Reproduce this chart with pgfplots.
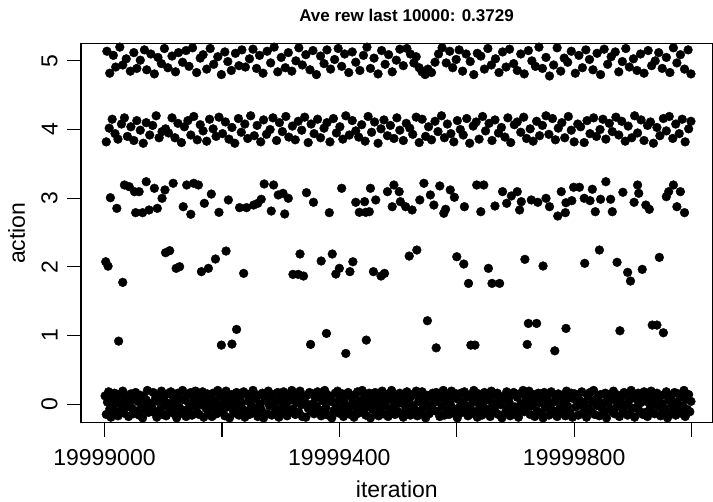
\documentclass[border=0pt]{standalone}
\usepackage{fontspec}
\setmainfont{Liberation Sans}
\usepackage{graphicx}
\usepackage{pgfplots}
\pgfplotsset{compat=1.18}
\begin{document}
\begin{tikzpicture}
\useasboundingbox (0,0) rectangle (713bp,502bp);
\begin{axis}[
  at={(81bp,79.3bp)}, anchor=south west,
  scale only axis, width=631.7bp, height=379bp,
  xmin=19998960, xmax=20000036, ymin=-0.27, ymax=5.25,
  axis line style={line width=1.2bp},
  xtick={19999000,19999200,19999400,19999600,19999800,20000000},
  xticklabels={19999000,,19999400,,19999800,},
  ytick={0,1,2,3,4,5},
  yticklabels={\rotatebox{90}{0},\rotatebox{90}{1},\rotatebox{90}{2},\rotatebox{90}{3},\rotatebox{90}{4},\rotatebox{90}{5}},
  tick align=outside, xtick pos=left, ytick pos=left,
  major tick length=14bp,
  every tick/.style={black, line width=1.2bp},
  tick label style={font=\fontsize{23bp}{24bp}\selectfont, inner sep=0pt},
  xticklabel style={anchor=base, yshift=-29.1bp},
  yticklabel style={anchor=east, xshift=-9.4bp},
  xlabel={iteration}, ylabel={action},
  every axis x label/.style={at={(axis description cs:0.5,0)}, anchor=base, yshift=-74.8bp, inner sep=0pt, font=\fontsize{23bp}{24bp}\selectfont},
  every axis y label/.style={at={(axis description cs:0,0.5)}, xshift=-56bp, rotate=90, anchor=base, inner sep=0pt, font=\fontsize{23bp}{24bp}\selectfont},
  title={Ave rew last 10000: 0.3729},
  every axis title/.style={at={(axis description cs:0.5153,1)}, anchor=base, yshift=22bp, inner sep=0pt, font=\bfseries\fontsize{17bp}{17bp}\selectfont},
  scaled x ticks=false,
]
% action 0
\addplot[only marks, mark=*, mark size=4.4bp, mark options={fill=black, draw=none}] table[row sep=\\] {
x y\\
19999001 0.12\\19999003 -0.15\\19999005 0.03\\19999007 0.18\\19999009 -0.07\\19999011 -0.19\\19999013 0.09\\19999015 -0.02\\19999017 0.16\\19999019 -0.11\\
19999021 0.05\\19999023 -0.17\\19999025 0.14\\19999027 0.00\\19999029 -0.09\\19999031 0.19\\19999033 -0.13\\19999035 0.07\\19999037 -0.04\\19999039 0.11\\
19999041 -0.18\\19999043 0.02\\19999045 0.15\\19999047 -0.06\\19999049 -0.14\\19999051 0.08\\19999053 0.17\\19999055 -0.10\\19999057 0.04\\19999059 -0.16\\
19999061 0.13\\19999063 -0.01\\19999065 -0.20\\19999067 0.10\\19999069 -0.08\\19999071 0.06\\19999073 0.20\\19999075 -0.12\\19999077 -0.03\\19999079 0.01\\
19999081 -0.05\\19999083 0.17\\19999085 -0.12\\19999087 0.09\\19999089 -0.19\\19999091 0.04\\19999093 0.13\\19999095 -0.08\\19999097 0.19\\19999099 -0.15\\
19999101 0.07\\19999103 -0.02\\19999105 -0.17\\19999107 0.15\\19999109 0.01\\19999111 -0.10\\19999113 0.18\\19999115 -0.06\\19999117 0.11\\19999119 -0.14\\
19999121 0.03\\19999123 -0.20\\19999125 0.16\\19999127 -0.04\\19999129 0.08\\19999131 -0.13\\19999133 0.20\\19999135 -0.09\\19999137 0.06\\19999139 -0.18\\
19999141 0.14\\19999143 -0.07\\19999145 0.00\\19999147 0.17\\19999149 -0.16\\19999151 0.10\\19999153 -0.03\\19999155 0.19\\19999157 -0.11\\19999159 0.05\\
19999161 -0.15\\19999163 0.12\\19999165 -0.01\\19999167 0.18\\19999169 -0.19\\19999171 0.08\\19999173 -0.06\\19999175 0.15\\19999177 -0.12\\19999179 0.02\\
19999181 0.10\\19999183 -0.18\\19999185 0.16\\19999187 -0.05\\19999189 0.04\\19999191 -0.14\\19999193 0.20\\19999195 -0.08\\19999197 0.13\\19999199 -0.02\\
19999201 -0.11\\19999203 0.07\\19999205 -0.17\\19999207 0.19\\19999209 -0.04\\19999211 0.11\\19999213 -0.20\\19999215 0.01\\19999217 0.14\\19999219 -0.09\\
19999221 0.06\\19999223 -0.13\\19999225 0.17\\19999227 -0.01\\19999229 -0.16\\19999231 0.09\\19999233 0.02\\19999235 -0.07\\19999237 0.18\\19999239 -0.19\\
19999241 0.15\\19999243 -0.10\\19999245 0.04\\19999247 -0.15\\19999249 0.12\\19999251 -0.03\\19999253 0.20\\19999255 -0.12\\19999257 0.08\\19999259 -0.06\\
19999261 -0.18\\19999263 0.13\\19999265 0.00\\19999267 -0.08\\19999269 0.16\\19999271 -0.20\\19999273 0.05\\19999275 0.11\\19999277 -0.14\\19999279 0.19\\
19999281 -0.02\\19999283 0.09\\19999285 -0.16\\19999287 0.14\\19999289 -0.05\\19999291 0.03\\19999293 -0.11\\19999295 0.17\\19999297 -0.19\\19999299 0.07\\
19999301 0.11\\19999303 -0.04\\19999305 0.18\\19999307 -0.13\\19999309 0.01\\19999311 -0.17\\19999313 0.12\\19999315 -0.09\\19999317 0.06\\19999319 0.20\\
19999321 -0.07\\19999323 0.16\\19999325 -0.15\\19999327 0.02\\19999329 0.10\\19999331 -0.12\\19999333 0.19\\19999335 -0.01\\19999337 -0.18\\19999339 0.08\\
19999341 0.04\\19999343 -0.19\\19999345 0.13\\19999347 -0.06\\19999349 0.17\\19999351 -0.10\\19999353 0.00\\19999355 0.15\\19999357 -0.14\\19999359 0.09\\
19999361 -0.03\\19999363 0.18\\19999365 -0.08\\19999367 0.12\\19999369 -0.17\\19999371 0.05\\19999373 -0.12\\19999375 0.20\\19999377 -0.05\\19999379 0.14\\
19999381 -0.16\\19999383 0.06\\19999385 0.11\\19999387 -0.20\\19999389 0.03\\19999391 -0.09\\19999393 0.16\\19999395 -0.02\\19999397 0.19\\19999399 -0.13\\
19999401 0.08\\19999403 -0.06\\19999405 0.15\\19999407 -0.18\\19999409 0.01\\19999411 0.12\\19999413 -0.11\\19999415 0.17\\19999417 -0.04\\19999419 -0.15\\
19999421 0.10\\19999423 0.02\\19999425 -0.19\\19999427 0.14\\19999429 -0.07\\19999431 0.18\\19999433 -0.13\\19999435 0.05\\19999437 -0.01\\19999439 0.20\\
19999441 -0.10\\19999443 0.13\\19999445 -0.16\\19999447 0.07\\19999449 -0.03\\19999451 0.16\\19999453 -0.20\\19999455 0.09\\19999457 -0.08\\19999459 0.04\\
19999461 0.17\\19999463 -0.12\\19999465 0.00\\19999467 -0.17\\19999469 0.11\\19999471 -0.05\\19999473 0.19\\19999475 -0.14\\19999477 0.06\\19999479 -0.02\\
19999481 0.14\\19999483 -0.18\\19999485 0.08\\19999487 -0.09\\19999489 0.20\\19999491 -0.06\\19999493 0.03\\19999495 -0.15\\19999497 0.12\\19999499 -0.11\\
19999501 0.01\\19999503 0.16\\19999505 -0.13\\19999507 0.10\\19999509 -0.19\\19999511 0.05\\19999513 -0.04\\19999515 0.18\\19999517 -0.10\\19999519 0.07\\
19999521 -0.16\\19999523 0.12\\19999525 -0.02\\19999527 0.15\\19999529 -0.08\\19999531 0.19\\19999533 -0.17\\19999535 0.04\\19999537 0.09\\19999539 -0.12\\
19999541 0.18\\19999543 -0.05\\19999545 0.06\\19999547 -0.20\\19999549 0.13\\19999551 -0.01\\19999553 -0.14\\19999555 0.11\\19999557 -0.07\\19999559 0.16\\
19999561 -0.09\\19999563 0.03\\19999565 0.17\\19999567 -0.11\\19999569 0.08\\19999571 -0.18\\19999573 0.14\\19999575 -0.03\\19999577 0.20\\19999579 -0.16\\
19999581 0.05\\19999583 -0.10\\19999585 0.12\\19999587 -0.15\\19999589 0.00\\19999591 0.19\\19999593 -0.06\\19999595 0.09\\19999597 -0.13\\19999599 0.15\\
19999601 -0.20\\19999603 0.07\\19999605 -0.04\\19999607 0.16\\19999609 -0.12\\19999611 0.02\\19999613 0.18\\19999615 -0.08\\19999617 0.10\\19999619 -0.17\\
19999621 0.13\\19999623 -0.02\\19999625 -0.14\\19999627 0.08\\19999629 0.20\\19999631 -0.11\\19999633 0.04\\19999635 -0.19\\19999637 0.15\\19999639 -0.05\\
19999641 0.09\\19999643 -0.16\\19999645 0.01\\19999647 0.17\\19999649 -0.07\\19999651 0.12\\19999653 -0.13\\19999655 0.06\\19999657 -0.18\\19999659 0.19\\
19999661 -0.03\\19999663 0.14\\19999665 -0.10\\19999667 0.02\\19999669 0.16\\19999671 -0.15\\19999673 0.10\\19999675 -0.01\\19999677 -0.20\\19999679 0.11\\
19999681 0.07\\19999683 -0.12\\19999685 0.18\\19999687 -0.06\\19999689 0.03\\19999691 -0.17\\19999693 0.13\\19999695 -0.09\\19999697 0.17\\19999699 -0.04\\
19999701 -0.14\\19999703 0.10\\19999705 -0.19\\19999707 0.15\\19999709 0.00\\19999711 -0.08\\19999713 0.20\\19999715 -0.11\\19999717 0.05\\19999719 0.12\\
19999721 -0.06\\19999723 0.19\\19999725 -0.15\\19999727 0.04\\19999729 -0.02\\19999731 0.14\\19999733 -0.18\\19999735 0.08\\19999737 -0.10\\19999739 0.16\\
19999741 0.02\\19999743 -0.13\\19999745 0.11\\19999747 -0.20\\19999749 0.17\\19999751 -0.05\\19999753 0.06\\19999755 0.13\\19999757 -0.16\\19999759 -0.01\\
19999761 0.18\\19999763 -0.09\\19999765 0.03\\19999767 -0.14\\19999769 0.10\\19999771 -0.18\\19999773 0.15\\19999775 -0.07\\19999777 0.00\\19999779 0.12\\
19999781 -0.11\\19999783 0.05\\19999785 -0.17\\19999787 0.19\\19999789 -0.03\\19999791 0.09\\19999793 -0.12\\19999795 0.16\\19999797 -0.19\\19999799 0.08\\
19999801 0.15\\19999803 -0.04\\19999805 0.10\\19999807 -0.16\\19999809 0.06\\19999811 -0.01\\19999813 0.18\\19999815 -0.13\\19999817 0.02\\19999819 -0.08\\
19999821 -0.19\\19999823 0.12\\19999825 -0.06\\19999827 0.17\\19999829 -0.10\\19999831 0.04\\19999833 0.20\\19999835 -0.15\\19999837 0.07\\19999839 -0.02\\
19999841 0.11\\19999843 -0.17\\19999845 0.14\\19999847 -0.05\\19999849 0.01\\19999851 -0.12\\19999853 0.16\\19999855 -0.20\\19999857 0.09\\19999859 0.03\\
19999861 -0.07\\19999863 0.15\\19999865 -0.11\\19999867 0.19\\19999869 -0.14\\19999871 0.06\\19999873 -0.03\\19999875 0.13\\19999877 -0.18\\19999879 0.10\\
19999881 0.00\\19999883 -0.09\\19999885 0.17\\19999887 -0.02\\19999889 0.12\\19999891 -0.16\\19999893 0.05\\19999895 -0.13\\19999897 0.20\\19999899 -0.06\\
19999901 0.14\\19999903 -0.19\\19999905 0.08\\19999907 -0.04\\19999909 0.16\\19999911 -0.10\\19999913 0.02\\19999915 0.11\\19999917 -0.15\\19999919 0.18\\
19999921 -0.12\\19999923 0.04\\19999925 -0.18\\19999927 0.13\\19999929 -0.07\\19999931 0.19\\19999933 -0.01\\19999935 0.07\\19999937 -0.14\\19999939 0.10\\
19999941 0.16\\19999943 -0.03\\19999945 0.09\\19999947 -0.17\\19999949 0.01\\19999951 -0.11\\19999953 0.14\\19999955 -0.06\\19999957 0.18\\19999959 -0.20\\
19999961 0.06\\19999963 -0.14\\19999965 0.12\\19999967 0.00\\19999969 -0.09\\19999971 0.17\\19999973 -0.16\\19999975 0.03\\19999977 0.15\\19999979 -0.05\\
19999981 -0.13\\19999983 0.11\\19999985 -0.02\\19999987 0.20\\19999989 -0.18\\19999991 0.08\\19999993 -0.08\\19999995 0.14\\19999997 -0.11\\19999999 0.04\\
};
% action 1
\addplot[only marks, mark=*, mark size=4.4bp, mark options={fill=black, draw=none}] table[row sep=\\] {
x y\\
19999024 0.918\\19999199 0.86\\19999217 0.875\\19999225 1.089\\19999351 0.87\\19999378 1.03\\19999411 0.739\\19999446 0.933\\
19999550 1.215\\19999565 0.82\\19999624 0.86\\19999631 0.86\\19999722 1.176\\19999736 1.176\\19999720 0.87\\19999767 0.777\\
19999786 1.103\\19999878 1.069\\19999933 1.152\\19999941 1.152\\19999952 1.04\\
};
% action 2
\addplot[only marks, mark=*, mark size=4.4bp, mark options={fill=black, draw=none}] table[row sep=\\] {
x y\\
19999002 2.074\\19999006 2.01\\19999031 1.774\\19999104 2.206\\19999111 2.235\\19999122 1.978\\19999128 2.002\\19999165 1.93\\
19999177 1.978\\19999189 2.114\\19999207 2.23\\19999237 1.905\\19999321 1.89\\19999330 1.89\\19999339 1.866\\19999333 2.187\\
19999369 2.085\\19999388 2.187\\19999394 1.895\\19999400 1.978\\19999418 1.93\\19999423 2.074\\19999458 1.93\\19999471 1.866\\
19999477 1.905\\19999519 2.157\\19999532 2.245\\19999600 2.147\\19999612 2.041\\19999620 1.759\\19999654 1.978\\19999660 1.759\\
19999673 1.759\\19999716 2.109\\19999747 2.012\\19999818 2.051\\19999843 2.245\\19999873 2.066\\19999891 1.92\\19999896 1.793\\
19999916 1.963\\19999945 2.138\\
};
% action 3
\addplot[only marks, mark=*, mark size=4.4bp, mark options={fill=black, draw=none}] table[row sep=\\] {
x y\\
19999010 3.007\\19999021 2.852\\19999034 3.192\\19999042 3.168\\19999051 3.095\\19999059 3.095\\19999071 3.24\\19999085 3.144\\
19999103 3.12\\19999117 3.217\\19999098 2.998\\19999053 2.789\\19999065 2.789\\19999076 2.828\\19999090 2.852\\19999140 3.192\\
19999152 3.217\\19999160 3.192\\19999134 2.876\\19999147 2.765\\19999170 2.925\\19999182 3.06\\19999195 2.794\\19999211 2.974\\
19999230 2.862\\19999242 2.862\\19999254 2.9\\19999261 2.925\\19999267 2.984\\19999272 3.207\\19999288 3.192\\19999296 3.047\\
19999304 3.071\\19999313 2.998\\19999284 2.813\\19999307 2.77\\19999344 3.08\\19999356 2.94\\19999383 2.789\\19999404 3.144\\
19999428 2.94\\19999434 2.794\\19999445 2.794\\19999443 2.949\\19999453 3.144\\19999462 2.974\\19999451 2.803\\19999482 3.095\\
19999493 3.192\\19999502 3.095\\19999490 2.876\\19999504 2.949\\19999513 2.876\\19999524 2.828\\19999537 2.974\\19999544 3.217\\
19999555 3.047\\19999561 2.9\\19999571 3.178\\19999581 2.838\\19999589 3.12\\19999596 3.013\\19999578 2.78\\19999613 2.876\\
19999634 3.192\\19999646 3.192\\19999641 2.803\\19999665 2.886\\19999678 3.095\\19999685 2.925\\19999693 3.032\\19999703 3.095\\
19999707 2.828\\19999710 2.949\\19999727 2.974\\19999738 2.94\\19999752 2.998\\19999758 2.876\\19999772 2.74\\19999785 2.789\\
19999778 3.095\\19999786 2.934\\19999796 2.964\\19999799 3.159\\19999809 3.159\\19999817 2.998\\19999827 2.964\\19999831 3.13\\
19999836 2.803\\19999845 2.984\\19999854 3.24\\19999862 2.984\\19999865 2.803\\19999883 3.086\\19999902 2.94\\19999908 3.192\\
19999910 3.071\\19999922 2.9\\19999928 2.838\\19999957 3.022\\19999961 3.095\\19999969 3.192\\19999981 3.095\\19999975 2.876\\
19999988 2.789\\
};
% action 4
\addplot[only marks, mark=*, mark size=4.4bp, mark options={fill=black, draw=none}] table[row sep=\\] {
x y\\
19999003 3.82\\19999008 4.02\\19999013 4.15\\19999018 3.94\\19999023 3.86\\19999029 4.08\\19999034 4.17\\19999039 3.90\\19999045 4.04\\19999050 3.84\\
19999055 4.13\\19999061 3.99\\19999066 3.80\\19999071 4.10\\19999077 3.92\\19999082 4.06\\19999088 4.20\\19999093 3.88\\19999098 3.97\\19999104 4.01\\
19999109 3.95\\19999115 4.17\\19999120 3.88\\19999125 4.09\\19999131 3.81\\19999136 4.04\\19999142 4.13\\19999147 3.92\\19999152 4.19\\19999158 3.85\\
19999163 4.07\\19999168 3.98\\19999174 3.83\\19999179 4.15\\19999185 4.01\\19999190 3.90\\19999195 4.18\\19999201 3.94\\19999206 4.11\\19999212 3.86\\
19999217 4.03\\19999222 3.80\\19999228 4.16\\19999233 3.96\\19999239 4.08\\19999244 3.87\\19999249 4.20\\19999255 3.91\\19999260 4.06\\19999266 3.82\\
19999271 4.14\\19999276 3.93\\19999282 4.00\\19999287 4.17\\19999293 3.84\\19999298 4.10\\19999303 3.97\\19999309 4.19\\19999314 3.89\\19999320 4.05\\
19999325 3.85\\19999330 4.12\\19999336 3.99\\19999341 4.18\\19999347 3.81\\19999352 4.08\\19999357 3.94\\19999363 4.15\\19999368 3.88\\19999374 4.02\\
19999379 4.10\\19999384 3.82\\19999390 4.16\\19999395 3.95\\19999401 4.04\\19999406 3.86\\19999411 4.20\\19999417 3.92\\19999422 4.13\\19999428 3.98\\
19999433 3.89\\19999438 4.07\\19999444 3.83\\19999449 4.19\\19999455 3.96\\19999460 4.11\\19999466 3.80\\19999471 4.01\\19999476 4.14\\19999482 3.91\\
19999487 4.06\\19999493 3.87\\19999498 4.17\\19999503 3.99\\19999509 3.84\\19999514 4.09\\19999520 4.02\\19999525 3.93\\19999531 4.18\\19999536 3.81\\
19999541 4.15\\19999547 3.90\\19999552 4.04\\19999557 3.85\\19999563 4.12\\19999568 3.97\\19999574 4.20\\19999579 3.88\\19999584 4.08\\19999590 3.94\\
19999595 3.82\\19999601 4.13\\19999606 4.00\\19999611 3.92\\19999617 4.16\\19999622 3.80\\19999628 4.05\\19999633 4.11\\19999638 3.86\\19999644 4.19\\
19999649 3.98\\19999655 4.09\\19999660 3.84\\19999665 4.14\\19999671 3.95\\19999676 4.03\\19999682 3.89\\19999687 4.17\\19999692 3.81\\19999698 4.07\\
19999703 4.11\\19999709 3.96\\19999714 4.18\\19999719 3.87\\19999725 4.01\\19999730 3.83\\19999736 4.12\\19999741 3.91\\19999746 4.06\\19999752 4.20\\
19999757 3.93\\19999763 4.16\\19999768 3.85\\19999773 4.02\\19999779 4.10\\19999784 3.88\\19999790 4.19\\19999795 3.99\\19999800 3.82\\19999806 4.08\\
19999811 4.04\\19999817 3.81\\19999822 4.13\\19999827 3.94\\19999833 4.17\\19999838 3.90\\19999844 4.00\\19999849 4.15\\19999854 3.86\\19999860 4.09\\
19999865 3.97\\19999871 4.18\\19999876 3.92\\19999881 4.12\\19999887 3.83\\19999892 4.05\\19999898 3.88\\19999903 4.20\\19999908 3.95\\19999914 4.14\\
19999919 3.84\\19999925 4.06\\19999930 4.11\\19999935 3.80\\19999941 4.03\\19999946 3.91\\19999952 4.16\\19999957 3.98\\19999962 4.19\\19999968 3.87\\
19999973 4.08\\19999979 3.94\\19999984 4.15\\19999989 3.82\\19999995 4.01\\19999999 4.12\\
};
% action 5
\addplot[only marks, mark=*, mark size=4.4bp, mark options={fill=black, draw=none}] table[row sep=\\] {
x y\\
19999004 5.14\\19999009 4.82\\19999015 5.08\\19999019 4.91\\19999026 5.20\\19999031 4.94\\19999037 5.03\\19999044 4.85\\19999050 5.12\\19999055 4.89\\
19999061 5.01\\19999068 5.16\\19999072 4.87\\19999079 5.10\\19999085 4.81\\19999091 5.05\\19999097 4.96\\19999102 5.18\\19999108 4.90\\19999115 5.07\\
19999121 4.84\\19999126 5.12\\19999133 4.98\\19999139 5.15\\19999144 4.92\\19999150 5.19\\19999157 4.83\\19999163 5.04\\19999168 5.09\\19999174 4.88\\
19999180 5.18\\19999186 4.95\\19999193 5.06\\19999199 4.80\\19999205 5.13\\19999210 4.99\\19999216 4.86\\19999223 5.11\\19999229 4.93\\19999234 5.16\\
19999240 4.91\\19999247 5.03\\19999253 5.17\\19999259 4.89\\19999264 5.08\\19999270 4.82\\19999277 5.14\\19999283 4.97\\19999289 5.20\\19999295 4.84\\
19999301 5.05\\19999308 4.90\\19999313 5.12\\19999319 4.85\\19999326 5.00\\19999331 5.19\\19999337 4.94\\19999343 5.09\\19999350 4.87\\19999355 5.15\\
19999361 4.80\\19999368 5.07\\19999374 4.96\\19999379 5.16\\19999385 4.88\\19999392 5.02\\19999398 5.18\\19999404 4.92\\19999409 5.10\\19999416 4.83\\
19999422 5.13\\19999428 4.98\\19999435 4.86\\19999441 5.08\\19999447 5.20\\19999453 4.89\\19999459 5.04\\19999466 4.81\\19999472 5.15\\19999478 4.95\\
19999484 5.09\\19999490 4.84\\19999497 5.01\\19999503 5.17\\19999509 4.93\\19999515 5.18\\19999521 5.10\\19999527 4.97\\19999531 5.06\\19999536 4.90\\
19999541 4.84\\19999546 4.80\\19999551 4.88\\19999557 4.83\\19999563 4.98\\19999569 5.10\\19999575 5.19\\19999582 4.97\\19999588 5.14\\19999593 4.90\\
19999599 5.02\\19999604 5.16\\19999610 4.85\\19999616 5.10\\19999623 4.99\\19999629 4.80\\19999635 5.11\\19999641 5.07\\19999647 4.88\\19999653 5.18\\
19999659 4.94\\19999666 5.03\\19999672 4.83\\19999678 5.13\\19999684 4.91\\19999690 5.17\\19999697 4.96\\19999703 4.86\\19999709 5.10\\19999715 4.81\\
19999722 5.15\\19999728 5.00\\19999734 4.92\\19999740 5.20\\19999746 4.89\\19999752 5.05\\19999758 4.78\\19999765 4.94\\19999771 5.19\\19999777 4.85\\
19999783 5.04\\19999789 4.98\\19999795 5.14\\19999802 4.82\\19999808 5.08\\19999814 4.90\\19999820 5.16\\19999826 5.02\\19999832 4.87\\19999839 5.11\\
19999845 4.80\\19999851 5.17\\19999857 4.95\\19999863 5.06\\19999870 5.13\\19999876 4.84\\19999882 4.99\\19999888 5.18\\19999894 4.91\\19999901 5.03\\
19999907 4.86\\19999913 5.10\\19999919 4.82\\19999926 5.15\\19999932 4.93\\19999938 5.00\\19999944 5.12\\19999950 4.89\\19999957 5.05\\19999963 4.83\\
19999969 5.19\\19999975 4.97\\19999981 5.09\\19999988 4.88\\19999994 5.16\\19999999 4.81\\
};
\end{axis}
\end{tikzpicture}
\end{document}
